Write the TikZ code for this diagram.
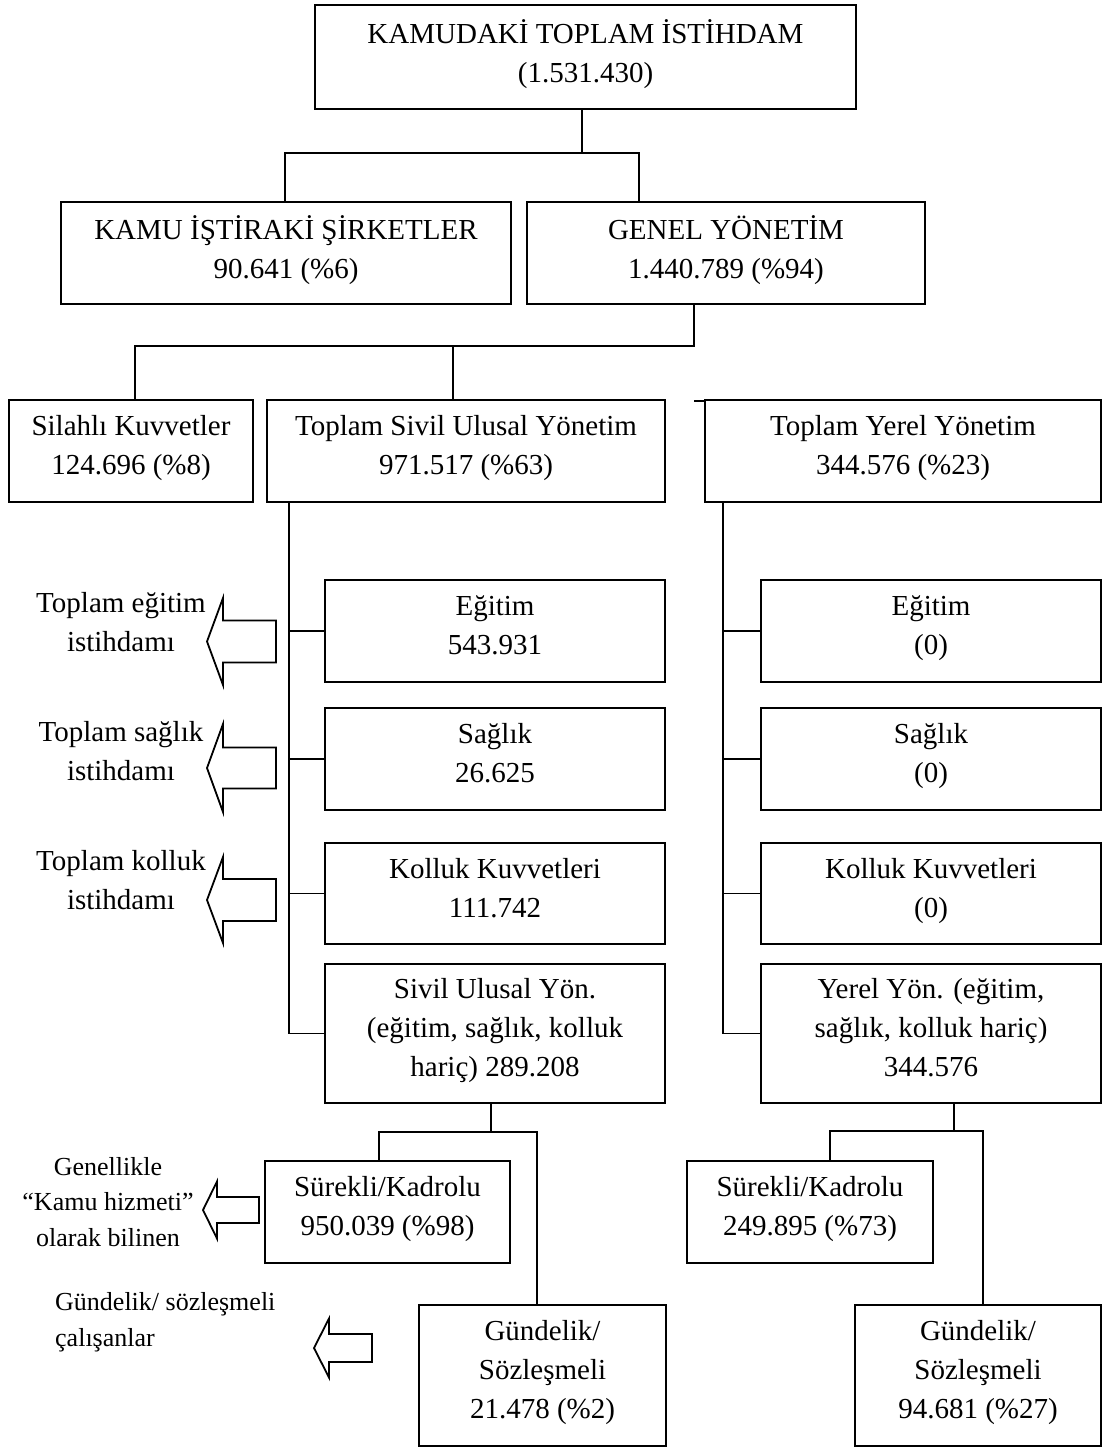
\documentclass[tikz,border=0pt]{standalone}
\usepackage{fontspec}
\setmainfont{Liberation Serif}
\newcommand{\boxfont}{\fontsize{29}{39}\selectfont}
\newcommand{\notefont}{\fontsize{26}{35.5}\selectfont}
% hollow left-pointing arrow: tip x, tip y, head depth, head half-height, shaft half-height, length
\newcommand{\hollowarrow}[6]{%
  \draw[conn, line join=miter] (#1,#2) -- ({#1+#3},{#2-#4}) -- ({#1+#3},{#2-#5}) -- ({#1+#6},{#2-#5})
    -- ({#1+#6},{#2+#5}) -- ({#1+#3},{#2+#5}) -- ({#1+#3},{#2+#4}) -- cycle;}
\begin{document}
\begin{tikzpicture}[x=1pt, y=-1pt,
  conn/.style={line width=1.8pt},
  box/.style={draw, line width=1.8pt, rectangle, inner sep=0pt, align=center, font=\boxfont,
    execute at begin node=\strut, execute at end node=\strut},
  lbl/.style={inner sep=0pt, align=center, font=\boxfont,
    execute at begin node=\strut, execute at end node=\strut},
  note/.style={inner sep=0pt, font=\notefont,
    execute at begin node=\strut, execute at end node=\strut}]
\useasboundingbox (0,0) rectangle (1103,1448);

% top level
\node[box, minimum width=541, minimum height=104] (top) at (585.5,57) {KAMUDAKİ TOPLAM İSTİHDAM\\(1.531.430)};
\node[box, minimum width=450, minimum height=102] (kamu) at (286,253) {KAMU İŞTİRAKİ ŞİRKETLER\\90.641 (\%6)};
\node[box, minimum width=398, minimum height=102] (genel) at (726,253) {GENEL YÖNETİM\\1.440.789 (\%94)};

% general government
\node[box, minimum width=244, minimum height=102] (silahli) at (131,451) {Silahlı Kuvvetler\\124.696 (\%8)};
\node[box, minimum width=398, minimum height=102] (sivil) at (466,451) {Toplam Sivil Ulusal Yönetim\\971.517 (\%63)};
\node[box, minimum width=396, minimum height=102] (yerel) at (903,451) {Toplam Yerel Yönetim\\344.576 (\%23)};

% civil national column
\node[box, minimum width=340, minimum height=102] (egL) at (495,631) {Eğitim\\543.931};
\node[box, minimum width=340, minimum height=102] (saL) at (495,759) {Sağlık\\26.625};
\node[box, minimum width=340, minimum height=101] (koL) at (495,893.5) {Kolluk Kuvvetleri\\111.742};
\node[box, minimum width=340, minimum height=139] (sivL) at (495,1033.5) {Sivil Ulusal Yön.\\(eğitim, sağlık, kolluk\\hariç) 289.208};

% local column
\node[box, minimum width=340, minimum height=102] (egR) at (931,631) {Eğitim\\(0)};
\node[box, minimum width=340, minimum height=102] (saR) at (931,759) {Sağlık\\(0)};
\node[box, minimum width=340, minimum height=101] (koR) at (931,893.5) {Kolluk Kuvvetleri\\(0)};
\node[box, minimum width=340, minimum height=139] (yerR) at (931,1033.5) {Yerel Yön. (eğitim,\\sağlık, kolluk hariç)\\344.576};

% employment types
\node[box, minimum width=245, minimum height=102] (sureL) at (387.5,1212) {Sürekli/Kadrolu\\950.039 (\%98)};
\node[box, minimum width=247, minimum height=141] (gundL) at (542.5,1375.5) {Gündelik/\\Sözleşmeli\\21.478 (\%2)};
\node[box, minimum width=246, minimum height=102] (sureR) at (810,1212) {Sürekli/Kadrolu\\249.895 (\%73)};
\node[box, minimum width=246, minimum height=141] (gundR) at (978,1375.5) {Gündelik/\\Sözleşmeli\\94.681 (\%27)};

% connectors: first level
\coordinate (busA) at (582,153);
\coordinate (busAl) at (285,153);
\coordinate (busAr) at (639,153);
\draw[conn] (top.south -| busA) -- (busA);
\draw[conn] (busAl |- kamu.north) -- (busAl) -- (busAr) -- (busAr |- genel.north);

% connectors: second level
\coordinate (busB) at (694,346);
\coordinate (busBl) at (135,346);
\coordinate (busBm) at (453,346);
\draw[conn] (genel.south -| busB) -- (busB) -- (busBl) -- (busBl |- silahli.north);
\draw[conn] (busBm) -- (busBm |- sivil.north);
\coordinate (stub) at (694,401);
\draw[conn] (stub) -- (stub -| yerel.west);

% trunks of the two columns
\coordinate (trunkL) at (289,0);
\coordinate (trunkR) at (723,0);
\draw[conn] (sivil.south -| trunkL) -- (trunkL |- sivL.west);
\draw[conn] (yerel.south -| trunkR) -- (trunkR |- yerR.west);
\foreach \b in {egL,saL,koL,sivL} \draw[conn] (trunkL |- \b.west) -- (\b.west);
\foreach \b in {egR,saR,koR,yerR} \draw[conn] (trunkR |- \b.west) -- (\b.west);

% connectors: employment types
\coordinate (busC) at (491,1132);
\coordinate (busCl) at (379,1132);
\coordinate (busCr) at (537,1132);
\draw[conn] (sivL.south -| busC) -- (busC);
\draw[conn] (busCl |- sureL.north) -- (busCl) -- (busCr) -- (busCr |- gundL.north);
\coordinate (busD) at (954,1131);
\coordinate (busDl) at (830,1131);
\coordinate (busDr) at (983,1131);
\draw[conn] (yerR.south -| busD) -- (busD);
\draw[conn] (busDl |- sureR.north) -- (busDl) -- (busDr) -- (busDr |- gundR.north);

% side arrows and their labels
\hollowarrow{207}{641.5}{16}{43.5}{21}{69}
\hollowarrow{207}{768}{16}{44}{20.5}{69}
\hollowarrow{207}{900}{16}{43}{21}{69}
\hollowarrow{203}{1210}{14}{28.5}{13}{56}
\hollowarrow{314}{1348}{15}{29.5}{14}{58}

\node[lbl] (nEg) at (121,628) {Toplam eğitim\\istihdamı};
\node[lbl] (nSa) at (121,757) {Toplam sağlık\\istihdamı};
\node[lbl] (nKo) at (121,886) {Toplam kolluk\\istihdamı};
\node[note, align=center] (nKamu) at (108,1207) {Genellikle\\“Kamu hizmeti”\\olarak bilinen};
\node[note, align=left, anchor=west] (nGun) at (55,1325) {Gündelik/ sözleşmeli\\çalışanlar};
\end{tikzpicture}
\end{document}
